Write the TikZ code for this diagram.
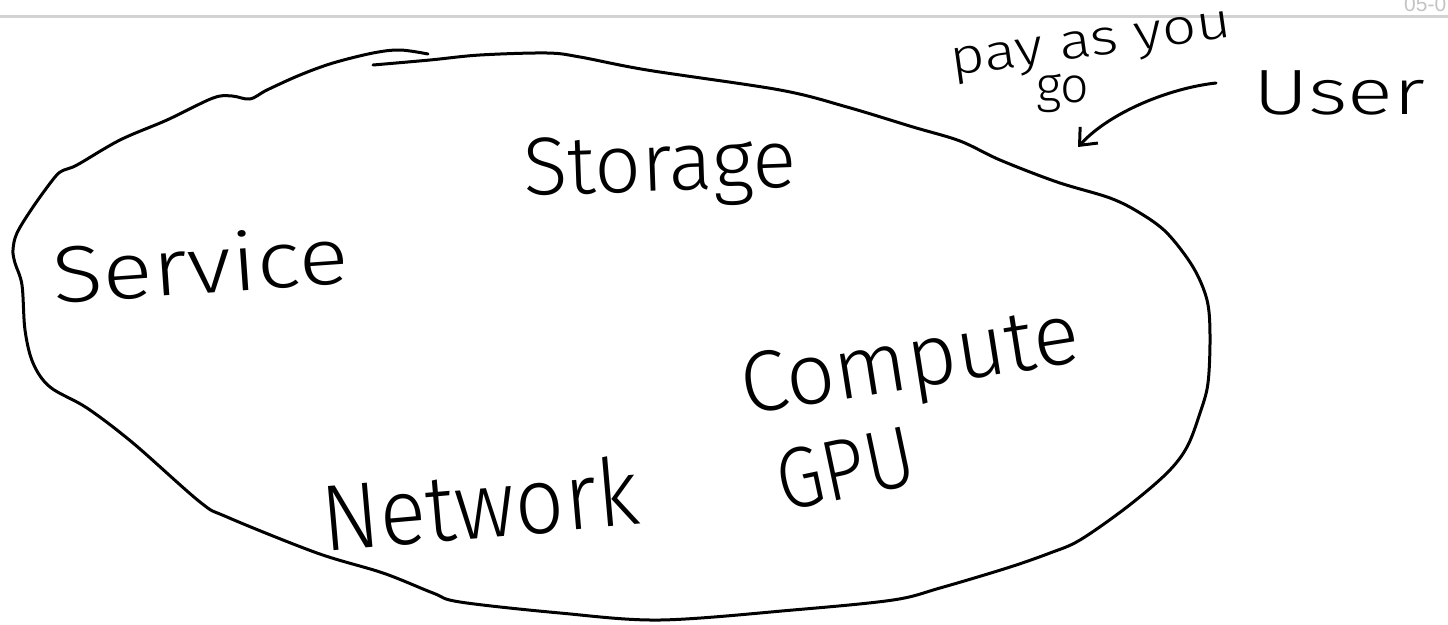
\documentclass[tikz,border=0pt]{standalone}
\usepackage{fontspec}
\setmainfont{Fira Sans Light}
\newfontfamily\stampfont{Liberation Sans}
\usetikzlibrary{arrows.meta}
\definecolor{rulegray}{HTML}{D2D2D2}
\definecolor{stampgray}{HTML}{C4C4C4}
\begin{document}
\begin{tikzpicture}[x=1pt,y=-1pt,
  ink/.style={line width=3pt, line cap=round, line join=round, black},
  word/.style={inner sep=0pt, anchor=base west, text=black},
]
\useasboundingbox (0,0) rectangle (1448,624);
\fill[white] (0,0) rectangle (1448,624);

% page header
\draw[rulegray, line width=2.4pt] (0,16.5) -- (1448,16.5);
\node[inner sep=0pt, anchor=base west, text=stampgray, font=\stampfont\fontsize{21}{21}\selectfont] (stamp) at (1404,11) {05-0};

% the cloud outline
\draw[ink] plot[smooth, tension=0.55] coordinates {
  (373,65) (430,60) (480,55) (547,53) (580,57) (647,70) (780,90) (847,107)
  (913,127) (960,141) (1000,160) (1057,182) (1110,198) (1140,213) (1167,233)
  (1193,267) (1207,300) (1210,335) (1208,383) (1200,413) (1187,447) (1167,473)
  (1127,507) (1080,540) (1050,553) (1007,568) (940,588) (893,600) (793,610)
  (660,620) (560,613) (460,602) (433,593) (383,573) (317,553) (227,517)
  (200,502) (133,443) (87,408) (50,387) (33,363) (25,330) (22,285) (15,263)
  (13,250) (17,233) (33,207) (55,177) (64,170) (77,165) (120,140) (167,120)
  (213,98) (232,96) (250,99) (267,90) (300,75) (333,63) (373,53) (400,50) (428,54)
};

% services inside the cloud
\node[word, font=\fontsize{82}{82}\selectfont, rotate=2] (storage) at (524,196) {Storage};
\node[word, font=\fontsize{80}{80}\selectfont, rotate=4, xscale=1.17] (service) at (54,304) {Service};
\node[word, font=\fontsize{86}{86}\selectfont, rotate=9] (compute) at (745,415) {Compute};
\node[word, font=\fontsize{86}{86}\selectfont, rotate=12, xscale=0.88] (gpu) at (783,512) {GPU};
\node[word, font=\fontsize{94}{94}\selectfont, rotate=5, xscale=0.92] (network) at (324,552) {Network};

% billing note and user
\node[word, font=\fontsize{50}{50}\selectfont, rotate=8, xscale=1.2] (payg) at (952,76) {pay as you};
\node[word, font=\fontsize{50}{50}\selectfont] (go) at (1036,102) {go};
\node[word, font=\fontsize{64}{64}\selectfont, xscale=1.33] (user) at (1253,114) {User};

\coordinate (from) at (1216,83);
\coordinate (to) at (1078,147);
\draw[ink, -{Straight Barb[length=14pt, width=24pt, line width=3pt]}]
  (from) .. controls (1170,88) and (1110,112) .. (to);
\end{tikzpicture}
\end{document}
